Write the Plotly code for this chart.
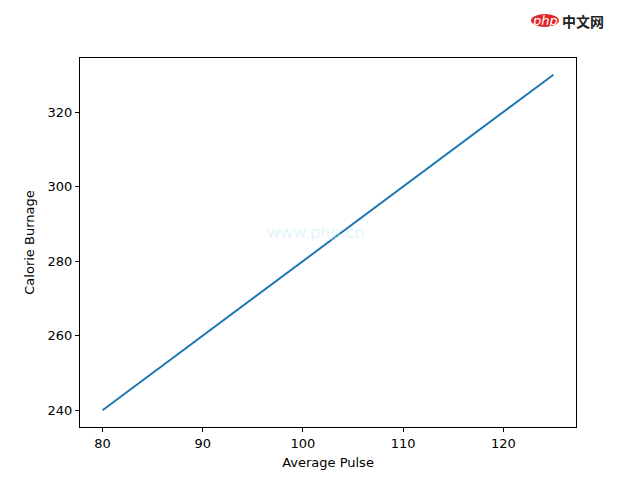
import plotly.graph_objects as go

average_pulse = [80, 85, 90, 95, 100, 105, 110, 115, 120, 125]
calorie_burnage = [240, 250, 260, 270, 280, 290, 300, 310, 320, 330]
x_ticks = [80, 90, 100, 110, 120]
y_ticks = [240, 260, 280, 300, 320]

fig = go.Figure()
fig.add_trace(go.Scatter(x=average_pulse, y=calorie_burnage, mode="lines",
                         line=dict(color="#1f77b4", width=2)))

axis_common = dict(showgrid=False, zeroline=False, showline=True, linecolor="black",
                   linewidth=1, mirror=True, ticks="outside", ticklen=4, tickwidth=1,
                   tickcolor="black", tickfont=dict(family="DejaVu Sans", size=13, color="black"))

fig.update_layout(
    width=640, height=480,
    margin=dict(l=72, r=72, t=50, b=61),
    paper_bgcolor="white", plot_bgcolor="white",
    showlegend=False,
    font=dict(family="DejaVu Sans", size=13, color="black"),
    xaxis=dict(range=[77.75, 127.25], tickvals=x_ticks,
               title=dict(text="Average Pulse", font=dict(size=13), standoff=8), **axis_common),
    yaxis=dict(range=[235.5, 334.5], tickvals=y_ticks,
               title=dict(text="Calorie Burnage", font=dict(size=13), standoff=10), **axis_common),
)


def px(x):
    return (x - 80) / 496


def py(y):
    return (427 - y) / 369


# watermark logo top-right
fig.add_shape(type="circle", xref="paper", yref="paper", x0=px(531), x1=px(559),
              y0=py(27), y1=py(14),
              fillcolor="#e0272b", line=dict(width=0), layer="above")
fig.add_annotation(xref="paper", yref="paper", x=px(545), y=py(20),
                   xanchor="center", yanchor="middle",
                   text="<i>php</i>", showarrow=False,
                   font=dict(family="DejaVu Sans", size=13, color="white"))
fig.add_annotation(xref="paper", yref="paper", x=px(560), y=py(21),
                   xanchor="left", yanchor="middle",
                   text="<b>中文网</b>", showarrow=False,
                   font=dict(family="Noto Sans CJK SC", size=14, color="#222222"))
fig.add_annotation(xref="paper", yref="paper", x=px(315), y=py(232),
                   xanchor="center", yanchor="middle",
                   text="www.php.cn", showarrow=False,
                   font=dict(family="DejaVu Sans", size=16, color="rgba(200,235,245,0.5)"))

fig.write_html("out.html")
